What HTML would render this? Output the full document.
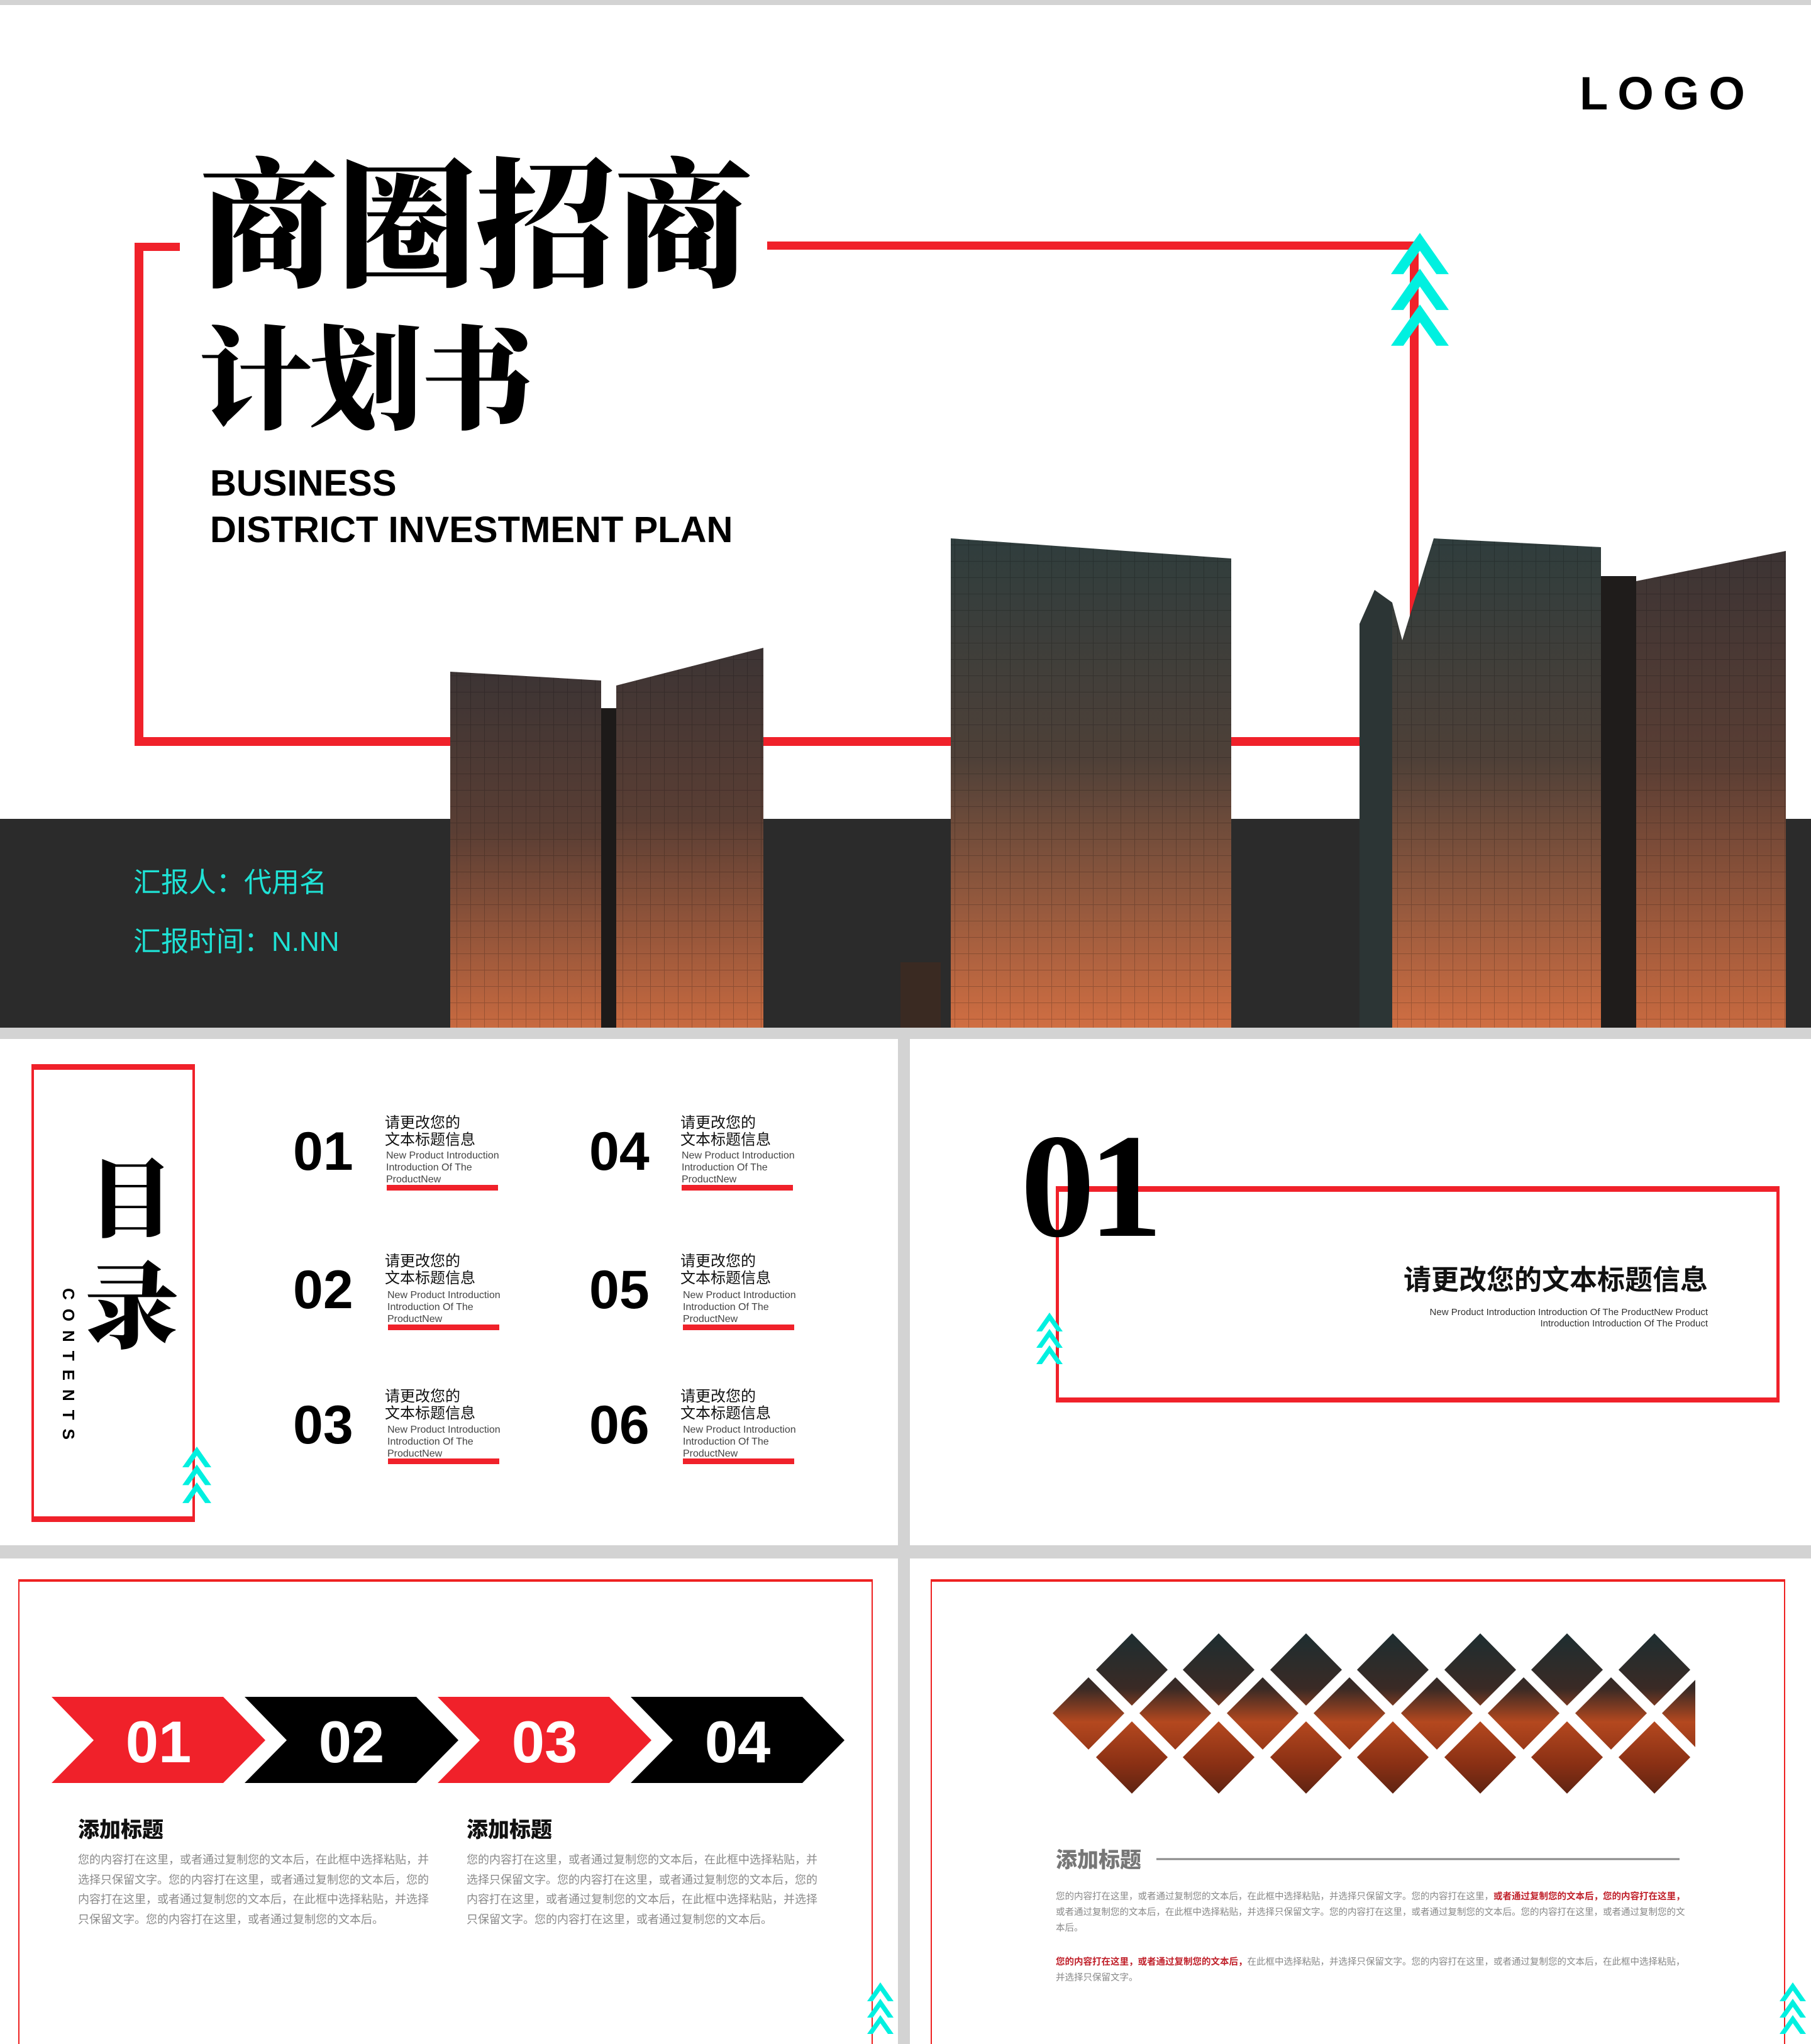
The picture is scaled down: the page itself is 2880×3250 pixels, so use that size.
<!DOCTYPE html>
<html><head><meta charset="utf-8">
<style>
*{margin:0;padding:0;box-sizing:border-box}
body{width:2880px;height:3250px;background:#d3d3d3;position:relative;overflow:hidden;font-family:"Liberation Sans","Noto Sans CJK SC",sans-serif}
.a{position:absolute}
.s{position:absolute;background:#fff;overflow:hidden}
.cn{font-family:"Liberation Sans","Noto Sans CJK SC",sans-serif}
.num{font-family:"Liberation Sans",sans-serif;font-weight:bold;font-size:86px;line-height:86px;color:#000}
.tt{font-size:24px;line-height:27px;color:#111}
.en{font-size:16px;line-height:19px;color:#444;width:190px}
.bar{position:absolute;height:9px;width:177px;background:#f0212a}
.body{font-size:18px;line-height:31.5px;color:#8a8a8a;width:560px}
</style></head><body>
<svg width="0" height="0" style="position:absolute"><defs>
<g id="chev"><polygon points="0,30 21,0 42,30 33,30 21,13 9,30" fill="#00f0e0"/></g>
</defs></svg>

<!-- Slide 1 -->
<div class="s" style="left:0;top:8px;width:2880px;height:1626px">
  <div class="a" style="left:0;top:1294px;width:2880px;height:332px;background:#2b2b2b"></div>
  <div class="a" style="left:214px;top:378px;width:72px;height:13px;background:#f0212a"></div>
  <div class="a" style="left:1220px;top:376px;width:1036px;height:13px;background:#f0212a"></div>
  <div class="a" style="left:214px;top:378px;width:14px;height:800px;background:#f0212a"></div>
  <div class="a" style="left:2242px;top:376px;width:14px;height:800px;background:#f0212a"></div>
  <div class="a" style="left:214px;top:1164px;width:2042px;height:14px;background:#f0212a"></div>
  <svg class="a" style="left:2212px;top:362px" width="92" height="180" viewBox="0 0 42 82"><use href="#chev"/><use href="#chev" y="26"/><use href="#chev" y="52"/></svg>
  <div class="a" style="left:316px;top:210px;font-family:'Noto Serif CJK SC',serif;font-weight:900;font-size:222px;line-height:250px;color:#000;letter-spacing:-2px">商圈招商</div>
  <div class="a" style="left:316px;top:478px;font-family:'Noto Serif CJK SC',serif;font-weight:900;font-size:180px;line-height:210px;color:#000;letter-spacing:-4px">计划书</div>
  <div class="a" style="left:334px;top:724px;font-weight:bold;font-size:58px;line-height:74px;color:#000">BUSINESS<br>DISTRICT INVESTMENT PLAN</div>
  <div class="a" style="left:2512px;top:96px;font-weight:bold;font-size:74px;line-height:90px;letter-spacing:15px;color:#000">LOGO</div>
  <div class="a cn" style="left:212px;top:1368px;font-size:44px;line-height:56px;color:#1fe3d6">汇报人：代用名</div>
  <div class="a cn" style="left:212px;top:1462px;font-size:44px;line-height:56px;color:#1fe3d6">汇报时间：N.NN</div>
  <svg class="a" style="left:0;top:0" width="2880" height="1626">
    <defs>
      <linearGradient id="bg1" x1="0" y1="0" x2="0" y2="1">
        <stop offset="0" stop-color="#3c3434"/><stop offset="0.45" stop-color="#5a3e34"/><stop offset="1" stop-color="#c86a40"/></linearGradient>
      <linearGradient id="bg2" x1="0" y1="0" x2="0" y2="1">
        <stop offset="0" stop-color="#2f3d3d"/><stop offset="0.45" stop-color="#4e4038"/><stop offset="1" stop-color="#d06e42"/></linearGradient>
      <pattern id="grid" width="22" height="26" patternUnits="userSpaceOnUse"><path d="M0 0H22M0 0V26" stroke="#000" stroke-opacity="0.2" stroke-width="2" fill="none"/></pattern>
    </defs>
    <polygon points="716,1060 956,1074 956,1626 716,1626" fill="url(#bg1)"/>
    <rect x="956" y="1118" width="24" height="508" fill="#1d1a19"/>
    <polygon points="980,1082 1214,1022 1214,1626 980,1626" fill="url(#bg1)"/>
    <polygon points="1512,848 1958,880 1958,1626 1512,1626" fill="url(#bg2)"/>
    <polygon points="2162,984 2186,930 2214,950 2214,1626 2162,1626" fill="#2c3535"/>
    <polygon points="2214,950 2230,1010 2280,848 2546,862 2546,1626 2214,1626" fill="url(#bg2)"/>
    <rect x="2546" y="908" width="56" height="718" fill="#1f1c1b"/>
    <polygon points="2602,916 2840,868 2840,1626 2602,1626" fill="url(#bg1)"/>
    <polygon points="716,1060 956,1074 956,1626 716,1626" fill="url(#grid)"/>
    <polygon points="980,1082 1214,1022 1214,1626 980,1626" fill="url(#grid)"/>
    <polygon points="1512,848 1958,880 1958,1626 1512,1626" fill="url(#grid)"/>
    <polygon points="2214,950 2230,1010 2280,848 2546,862 2546,1626 2214,1626" fill="url(#grid)"/>
    <polygon points="2602,916 2840,868 2840,1626 2602,1626" fill="url(#grid)"/>
    <rect x="1432" y="1522" width="64" height="104" fill="#3a2a22"/>
  </svg>
</div>

<!-- Slide 2 -->
<div class="s" style="left:0;top:1652px;width:1428px;height:805px">
  <div class="a" style="left:50px;top:40px;width:260px;height:728px;border:4px solid #f0212a;border-top-width:9px;border-bottom-width:9px"></div>
  <div class="a cn" style="left:140px;top:165px;font-family:'Noto Serif CJK SC',serif;font-weight:900;font-size:136px;line-height:160px">目</div>
  <div class="a cn" style="left:134px;top:330px;font-family:'Noto Serif CJK SC',serif;font-weight:900;font-size:150px;line-height:170px">录</div>
  <div class="a" style="left:90px;top:396px;width:40px;height:236px;"><div style="transform:rotate(90deg);transform-origin:0 0;position:absolute;left:34px;top:0;font-weight:bold;font-size:26px;letter-spacing:14px;white-space:nowrap">CONTENTS</div></div>
  <svg class="a" style="left:290px;top:648px" width="46" height="90" viewBox="0 0 42 82"><use href="#chev"/><use href="#chev" y="26"/><use href="#chev" y="52"/></svg>
  <div class="a num" style="left:466px;top:136px">01</div>
  <div class="a tt" style="left:612px;top:120px">请更改您的<br>文本标题信息</div>
  <div class="a en" style="left:614px;top:176px">New Product Introduction Introduction Of The ProductNew</div>
  <div class="bar" style="left:615px;top:232px"></div>
  <div class="a num" style="left:466px;top:356px">02</div>
  <div class="a tt" style="left:612px;top:340px">请更改您的<br>文本标题信息</div>
  <div class="a en" style="left:616px;top:398px">New Product Introduction Introduction Of The ProductNew</div>
  <div class="bar" style="left:617px;top:454px"></div>
  <div class="a num" style="left:466px;top:571px">03</div>
  <div class="a tt" style="left:612px;top:555px">请更改您的<br>文本标题信息</div>
  <div class="a en" style="left:616px;top:612px">New Product Introduction Introduction Of The ProductNew</div>
  <div class="bar" style="left:617px;top:667px"></div>
  <div class="a num" style="left:937px;top:136px">04</div>
  <div class="a tt" style="left:1082px;top:120px">请更改您的<br>文本标题信息</div>
  <div class="a en" style="left:1084px;top:176px">New Product Introduction Introduction Of The ProductNew</div>
  <div class="bar" style="left:1084px;top:232px"></div>
  <div class="a num" style="left:937px;top:356px">05</div>
  <div class="a tt" style="left:1082px;top:340px">请更改您的<br>文本标题信息</div>
  <div class="a en" style="left:1086px;top:398px">New Product Introduction Introduction Of The ProductNew</div>
  <div class="bar" style="left:1086px;top:454px"></div>
  <div class="a num" style="left:937px;top:571px">06</div>
  <div class="a tt" style="left:1082px;top:555px">请更改您的<br>文本标题信息</div>
  <div class="a en" style="left:1086px;top:612px">New Product Introduction Introduction Of The ProductNew</div>
  <div class="bar" style="left:1086px;top:667px"></div>
</div>

<!-- Slide 3 -->
<div class="s" style="left:1447px;top:1652px;width:1433px;height:805px">
  <div class="a" style="left:232px;top:234px;width:1151px;height:344px;border:5px solid #f0212a;border-top-width:9px;border-bottom-width:8px"></div>
  <div class="a" style="left:176px;top:110px;font-family:'Liberation Serif',serif;font-weight:bold;font-size:236px;line-height:250px;color:#000;letter-spacing:-10px">01</div>
  <div class="a cn" style="left:200px;top:356px;width:1069px;text-align:right;font-weight:bold;font-size:44px;line-height:56px;color:#111">请更改您的文本标题信息</div>
  <div class="a" style="left:200px;top:426px;width:1069px;text-align:right;font-size:15px;line-height:18px;color:#333">New Product Introduction Introduction Of The ProductNew Product<br>Introduction Introduction Of The Product</div>
  <svg class="a" style="left:201px;top:430px" width="42" height="92" viewBox="0 0 42 82"><use href="#chev"/><use href="#chev" y="26"/><use href="#chev" y="52"/></svg>
</div>

<!-- Slide 4 -->
<div class="s" style="left:0;top:2478px;width:1428px;height:772px">
  <div class="a" style="left:29px;top:33px;width:1359px;height:760px;border:2px solid #e22;border-top-width:4px"></div>
  <svg class="a" style="left:0;top:0" width="1428" height="772">
    <polygon points="82,220 355,220 422,289 355,357 82,357 149,289" fill="#f0212a"/>
    <polygon points="389,220 662,220 729,289 662,357 389,357 456,289" fill="#000"/>
    <polygon points="696,220 969,220 1036,289 969,357 696,357 763,289" fill="#f0212a"/>
    <polygon points="1003,220 1276,220 1343,289 1276,357 1003,357 1070,289" fill="#000"/>
    <g font-family="Liberation Sans,sans-serif" font-weight="bold" font-size="94" fill="#fff" text-anchor="middle">
      <text x="252" y="324">01</text><text x="559" y="324">02</text><text x="866" y="324">03</text><text x="1173" y="324">04</text>
    </g>
  </svg>
  <div class="a cn" style="left:124px;top:410px;font-weight:900;font-size:34px;line-height:44px;color:#111">添加标题</div>
  <div class="a cn" style="left:742px;top:410px;font-weight:900;font-size:34px;line-height:44px;color:#111">添加标题</div>
  <div class="a cn body" style="left:124px;top:464px">您的内容打在这里，或者通过复制您的文本后，在此框中选择粘贴，并选择只保留文字。您的内容打在这里，或者通过复制您的文本后，您的内容打在这里，或者通过复制您的文本后，在此框中选择粘贴，并选择只保留文字。您的内容打在这里，或者通过复制您的文本后。</div>
  <div class="a cn body" style="left:742px;top:464px">您的内容打在这里，或者通过复制您的文本后，在此框中选择粘贴，并选择只保留文字。您的内容打在这里，或者通过复制您的文本后，您的内容打在这里，或者通过复制您的文本后，在此框中选择粘贴，并选择只保留文字。您的内容打在这里，或者通过复制您的文本后。</div>
  <svg class="a" style="left:1379px;top:669px" width="42" height="92" viewBox="0 0 42 82"><use href="#chev"/><use href="#chev" y="26"/><use href="#chev" y="52"/></svg>
</div>

<!-- Slide 5 -->
<div class="s" style="left:1447px;top:2478px;width:1433px;height:772px">
  <div class="a" style="left:33px;top:33px;width:1359px;height:760px;border:2px solid #e22;border-top-width:4px"></div>
  <svg class="a" style="left:-1447px;top:-2478px" width="2880" height="3250">
    <defs>
      <linearGradient id="dg" x1="0" y1="2592" x2="0" y2="2858" gradientUnits="userSpaceOnUse">
        <stop offset="0" stop-color="#1c2e31"/><stop offset="0.35" stop-color="#3a2a25"/><stop offset="0.55" stop-color="#b4481f"/><stop offset="0.8" stop-color="#8a3014"/><stop offset="1" stop-color="#5a2212"/></linearGradient>
      <clipPath id="dc"><rect x="1660" y="2580" width="1036" height="290"/></clipPath>
    </defs>
    <g fill="url(#dg)" clip-path="url(#dc)" stroke="#fff" stroke-width="7">
      <polygon points="1800,2592 1862,2655 1800,2717 1738,2655"/>
      <polygon points="1938,2592 2000,2655 1938,2717 1876,2655"/>
      <polygon points="2077,2592 2139,2655 2077,2717 2015,2655"/>
      <polygon points="2215,2592 2277,2655 2215,2717 2153,2655"/>
      <polygon points="2354,2592 2416,2655 2354,2717 2292,2655"/>
      <polygon points="2492,2592 2554,2655 2492,2717 2430,2655"/>
      <polygon points="2631,2592 2693,2655 2631,2717 2569,2655"/>
      <polygon points="1731,2662 1793,2724 1731,2787 1669,2724"/>
      <polygon points="1869,2662 1931,2724 1869,2787 1807,2724"/>
      <polygon points="2008,2662 2070,2724 2008,2787 1946,2724"/>
      <polygon points="2146,2662 2208,2724 2146,2787 2084,2724"/>
      <polygon points="2285,2662 2347,2724 2285,2787 2223,2724"/>
      <polygon points="2423,2662 2485,2724 2423,2787 2361,2724"/>
      <polygon points="2562,2662 2624,2724 2562,2787 2500,2724"/>
      <polygon points="2700,2662 2762,2724 2700,2787 2638,2724"/>
      <polygon points="1800,2732 1862,2794 1800,2857 1738,2794"/>
      <polygon points="1938,2732 2000,2794 1938,2857 1876,2794"/>
      <polygon points="2077,2732 2139,2794 2077,2857 2015,2794"/>
      <polygon points="2215,2732 2277,2794 2215,2857 2153,2794"/>
      <polygon points="2354,2732 2416,2794 2354,2857 2292,2794"/>
      <polygon points="2492,2732 2554,2794 2492,2857 2430,2794"/>
      <polygon points="2631,2732 2693,2794 2631,2857 2569,2794"/>
    </g>
    <line x1="1839" y1="2956" x2="2671" y2="2956" stroke="#888" stroke-width="3"/>
  </svg>
  <div class="a cn" style="left:232px;top:458px;font-weight:900;font-size:34px;line-height:44px;color:#777">添加标题</div>
  <div class="a cn" style="left:232px;top:526px;width:1006px;font-size:14.5px;line-height:25px;color:#888">您的内容打在这里，或者通过复制您的文本后，在此框中选择粘贴，并选择只保留文字。您的内容打在这里，<span style="color:#c0202a;font-weight:bold">或者通过复制您的文本后，您的内容打在这里，</span>或者通过复制您的文本后，在此框中选择粘贴，并选择只保留文字。您的内容打在这里，或者通过复制您的文本后。您的内容打在这里，或者通过复制您的文本后。</div>
  <div class="a cn" style="left:232px;top:630px;width:1006px;font-size:14.5px;line-height:25px;color:#888"><span style="color:#c0202a;font-weight:bold">您的内容打在这里，或者通过复制您的文本后，</span>在此框中选择粘贴，并选择只保留文字。您的内容打在这里，或者通过复制您的文本后，在此框中选择粘贴，并选择只保留文字。</div>
  <svg class="a" style="left:1383px;top:669px" width="42" height="92" viewBox="0 0 42 82"><use href="#chev"/><use href="#chev" y="26"/><use href="#chev" y="52"/></svg>
</div>
</body></html>
